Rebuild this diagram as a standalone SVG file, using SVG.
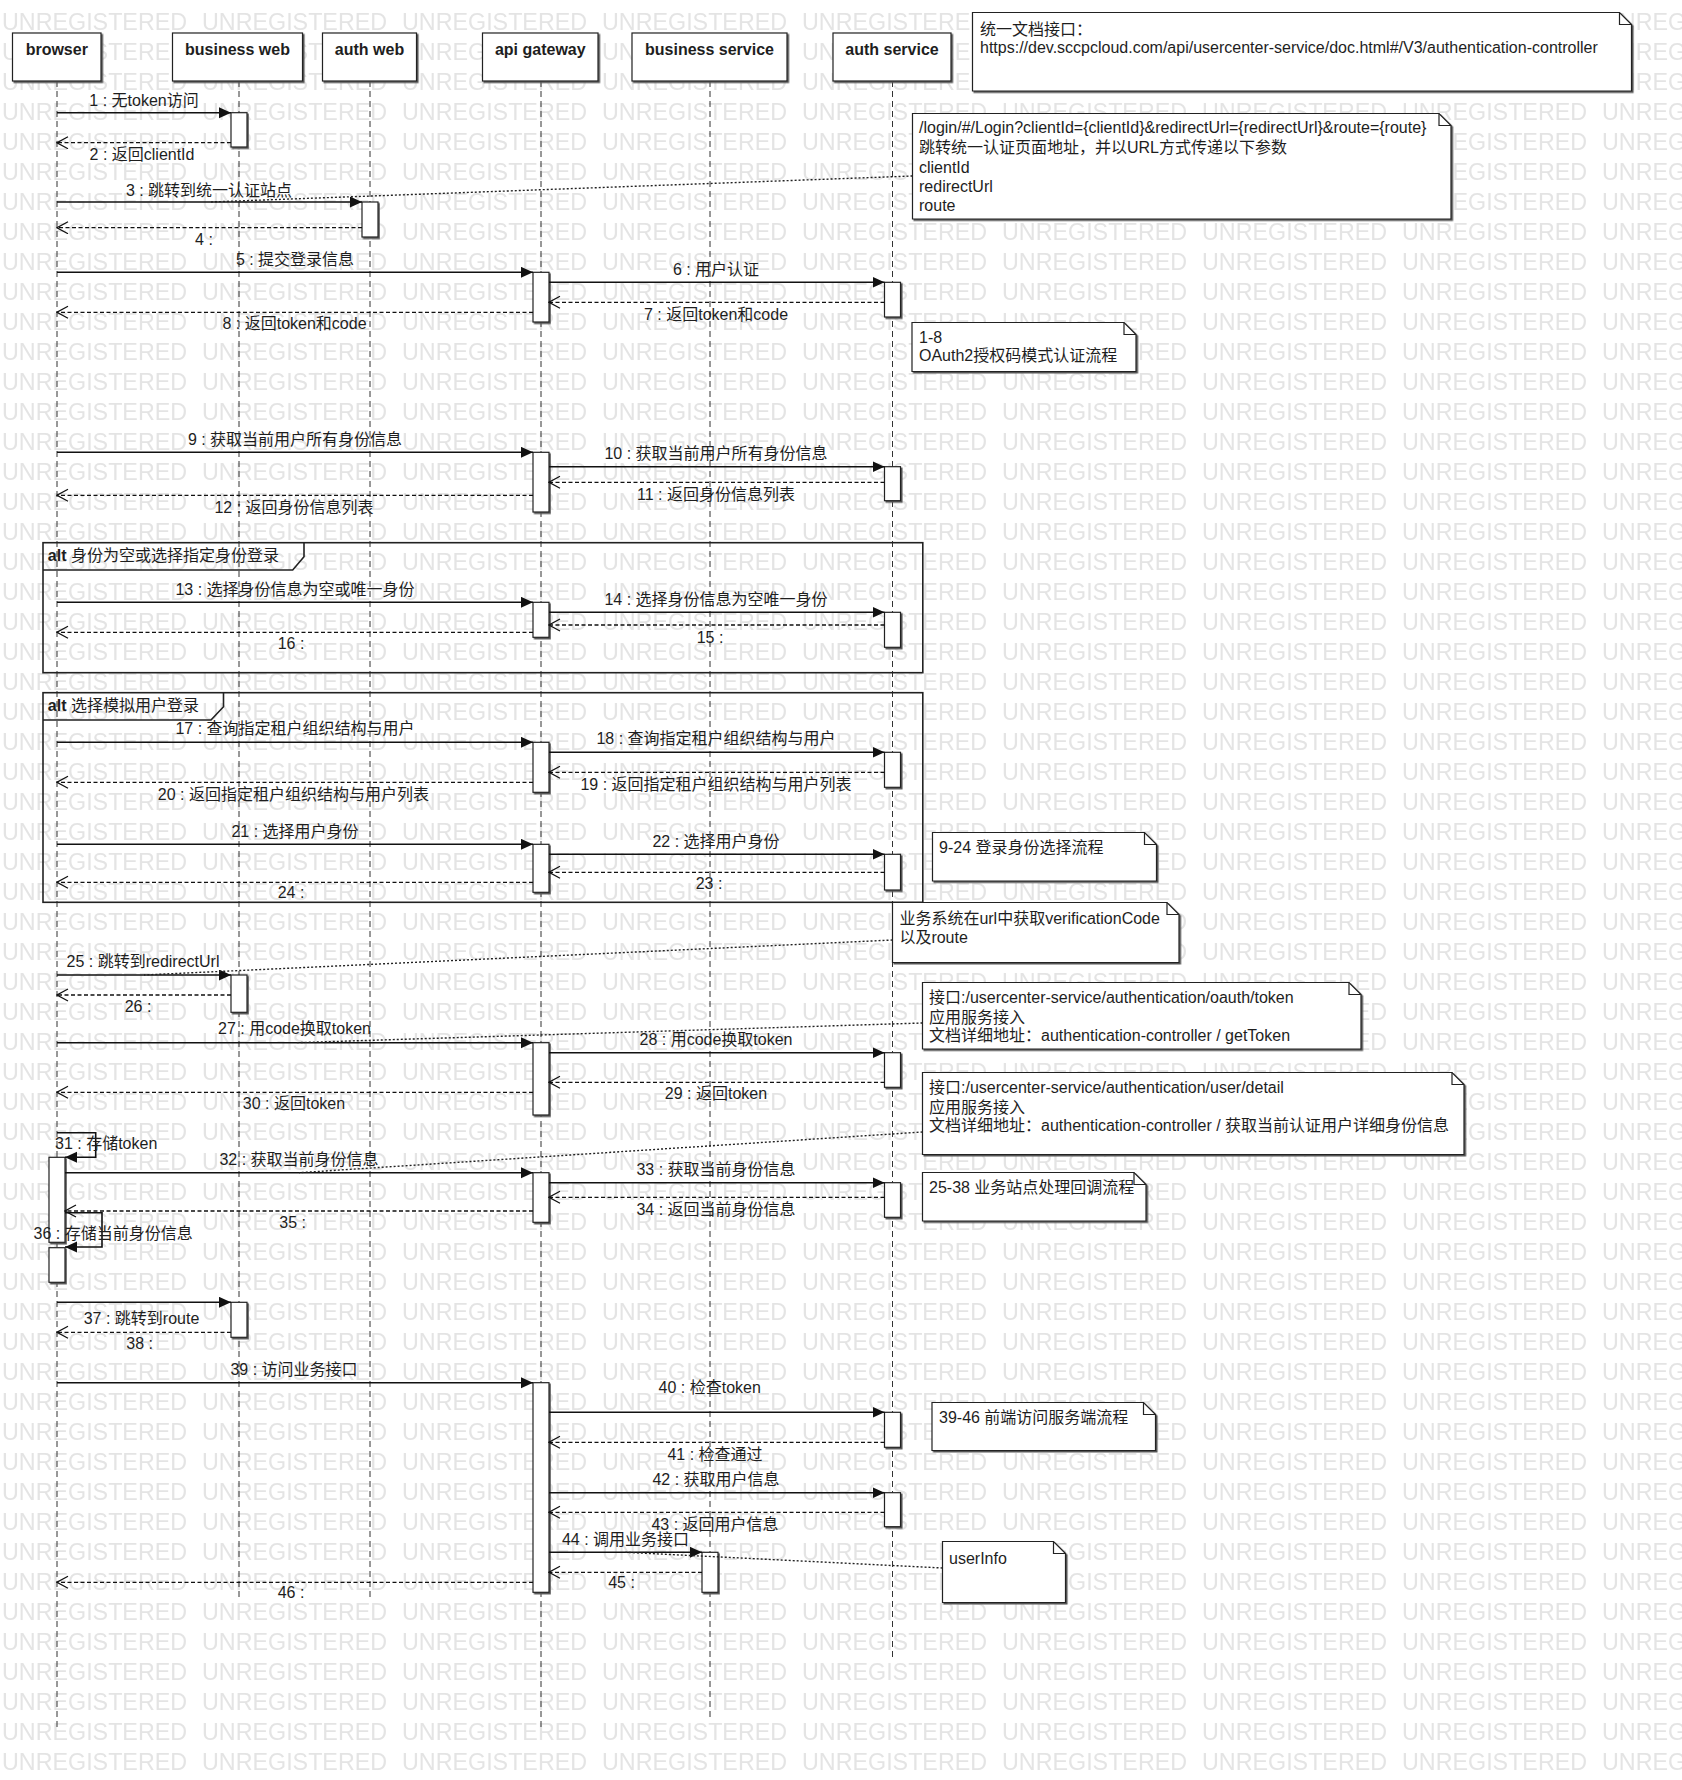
<svg xmlns="http://www.w3.org/2000/svg" width="1682" height="1780" viewBox="0 0 1682 1780">
<style>
text{font-family:"Liberation Sans","Noto Sans CJK SC",sans-serif;font-size:16px;fill:#1e1e1e}
.hd{font-weight:bold;text-anchor:middle}
.m{text-anchor:middle}
.b{font-weight:bold}
.box{fill:#fff;stroke:#222;stroke-width:1.2;filter:url(#sh)}
.act{fill:#fff;stroke:#222;stroke-width:1.2;filter:url(#sh)}
.life{stroke:#333;stroke-width:1;stroke-dasharray:6,4;fill:none}
.msg{stroke:#111;stroke-width:1.6;fill:none;marker-end:url(#fa)}
.ret{stroke:#111;stroke-width:1.3;stroke-dasharray:4,2.5;fill:none;marker-end:url(#oa)}
.nc{stroke:#222;stroke-width:1.4;stroke-dasharray:2,2;fill:none}
.note{fill:#fff;stroke:#222;stroke-width:1.2;filter:url(#sh)}
.fold{fill:none;stroke:#222;stroke-width:1.2}
.frame{fill:none;stroke:#222;stroke-width:1.6}
.wm{font-size:23.3px;fill:#e4e4e4}
</style>
<defs>
<filter id="sh" x="-5%" y="-5%" width="115%" height="130%">
<feDropShadow dx="1.5" dy="1.5" stdDeviation="0" flood-color="#555" flood-opacity="1"/>
</filter>
<marker id="fa" markerUnits="userSpaceOnUse" markerWidth="13" markerHeight="12" refX="12" refY="5.5" orient="auto">
<path d="M0,0 L12,5.5 L0,11 Z" fill="#111" stroke="none"/>
</marker>
<marker id="oa" markerUnits="userSpaceOnUse" markerWidth="13" markerHeight="14" refX="11.5" refY="6.5" orient="auto">
<path d="M0.5,0.5 L11.5,6.5 L0.5,12.5" fill="none" stroke="#111" stroke-width="1.3" stroke-dasharray="none"/>
</marker>
<pattern id="wmp" patternUnits="userSpaceOnUse" x="0" y="5" width="200" height="30">
<text class="wm" x="2" y="25">UNREGISTERED</text>
</pattern>
</defs>
<rect x="0" y="0" width="1682" height="1780" fill="#fff"/>
<rect id="watermark" x="0" y="0" width="1682" height="1780" fill="url(#wmp)"/>

<g id="lifelines">
<path class="life" d="M57,81 V1730"/>
<path class="life" d="M239,81 V1601"/>
<path class="life" d="M370,81 V1601"/>
<path class="life" d="M541,81 V1730"/>
<path class="life" d="M710,81 V1720"/>
<path class="life" d="M892.5,81 V1659"/>
</g>

<g id="frame-alt1">
<rect class="frame" x="43" y="542.7" width="879.8" height="130"/>
<path class="frame" d="M43,570 H292.7 L304,556.7 V542.7"/>
<text x="47.8" y="561"><tspan class="b">alt</tspan> 身份为空或选择指定身份登录</text>
</g>
<g id="frame-alt2">
<rect class="frame" x="43" y="692.7" width="879.8" height="209.6"/>
<path class="frame" d="M43,720 H211 L223.5,706.7 V692.7"/>
<text x="47.8" y="710.7"><tspan class="b">alt</tspan> 选择模拟用户登录</text>
</g>

<g id="p-browser"><rect class="box" x="12.5" y="33" width="88.5" height="48"/><text class="hd" x="56.75" y="54.5">browser</text></g>
<g id="p-business-web"><rect class="box" x="172.5" y="33" width="130" height="48"/><text class="hd" x="237.5" y="54.5">business web</text></g>
<g id="p-auth-web"><rect class="box" x="322.5" y="33" width="94" height="48"/><text class="hd" x="369.5" y="54.5">auth web</text></g>
<g id="p-api-gateway"><rect class="box" x="482.5" y="33" width="115.5" height="48"/><text class="hd" x="540.3" y="54.5">api gateway</text></g>
<g id="p-business-service"><rect class="box" x="632" y="33" width="155" height="48"/><text class="hd" x="709.5" y="54.5">business service</text></g>
<g id="p-auth-service"><rect class="box" x="833" y="33" width="118" height="48"/><text class="hd" x="892" y="54.5">auth service</text></g>

<g id="activations">
<rect class="act" x="231" y="112.7" width="16" height="34.3"/>
<rect class="act" x="231" y="975" width="16" height="37.3"/>
<rect class="act" x="231" y="1302.3" width="16" height="35"/>
<rect class="act" x="362" y="202" width="16" height="35"/>
<rect class="act" x="533" y="272.3" width="16" height="49.7"/>
<rect class="act" x="533" y="452.3" width="16" height="59.7"/>
<rect class="act" x="533" y="602.3" width="16" height="35"/>
<rect class="act" x="533" y="742.3" width="16" height="50"/>
<rect class="act" x="533" y="844.3" width="16" height="48"/>
<rect class="act" x="533" y="1042.7" width="16" height="72.3"/>
<rect class="act" x="533" y="1172.7" width="16" height="49.6"/>
<rect class="act" x="533" y="1382.7" width="16" height="209.6"/>
<rect class="act" x="884.5" y="282.3" width="16" height="34.7"/>
<rect class="act" x="884.5" y="466.7" width="16" height="34"/>
<rect class="act" x="884.5" y="612.3" width="16" height="35"/>
<rect class="act" x="884.5" y="752.3" width="16" height="35"/>
<rect class="act" x="884.5" y="854.3" width="16" height="35.7"/>
<rect class="act" x="884.5" y="1052.7" width="16" height="34.6"/>
<rect class="act" x="884.5" y="1182.7" width="16" height="34.6"/>
<rect class="act" x="884.5" y="1412.3" width="16" height="35"/>
<rect class="act" x="884.5" y="1492.7" width="16" height="34"/>
<rect class="act" x="702" y="1552.3" width="16" height="40"/>
<rect class="act" x="49" y="1157.3" width="16" height="85"/>
<rect class="act" x="49" y="1247.7" width="16" height="34.6"/>
</g>

<g id="connectors">
<path class="msg" d="M57,112.7 H231"/><text class="m" x="144" y="106">1 : 无token访问</text>
<path class="ret" d="M231,142.7 H57"/><text class="m" x="142" y="160">2 : 返回clientId</text>
<path class="msg" d="M57,202 H362"/><text class="m" x="209" y="196">3 : 跳转到统一认证站点</text>
<path class="ret" d="M362,227.7 H57"/><text class="m" x="204" y="245">4 :</text>
<path class="msg" d="M57,272.3 H533"/><text class="m" x="295" y="265">5 : 提交登录信息</text>
<path class="msg" d="M549,282.3 H884.5"/><text class="m" x="716" y="275">6 : 用户认证</text>
<path class="ret" d="M884.5,302.3 H549"/><text class="m" x="716" y="320">7 : 返回token和code</text>
<path class="ret" d="M533,312.3 H57"/><text class="m" x="294.5" y="329">8 : 返回token和code</text>
<path class="msg" d="M57,452.3 H533"/><text class="m" x="295" y="445">9 : 获取当前用户所有身份信息</text>
<path class="msg" d="M549,466.7 H884.5"/><text class="m" x="716" y="459">10 : 获取当前用户所有身份信息</text>
<path class="ret" d="M884.5,482.3 H549"/><text class="m" x="716" y="500">11 : 返回身份信息列表</text>
<path class="ret" d="M533,495.3 H57"/><text class="m" x="294" y="512.7">12 : 返回身份信息列表</text>
<path class="msg" d="M57,602.3 H533"/><text class="m" x="295" y="595">13 : 选择身份信息为空或唯一身份</text>
<path class="msg" d="M549,612.3 H884.5"/><text class="m" x="716" y="605">14 : 选择身份信息为空唯一身份</text>
<path class="ret" d="M884.5,625 H549"/><text class="m" x="710" y="642.7">15 :</text>
<path class="ret" d="M533,632.3 H57"/><text class="m" x="291" y="649.3">16 :</text>
<path class="msg" d="M57,742.3 H533"/><text class="m" x="295" y="734">17 : 查询指定租户组织结构与用户</text>
<path class="msg" d="M549,752.3 H884.5"/><text class="m" x="716" y="744">18 : 查询指定租户组织结构与用户</text>
<path class="ret" d="M884.5,772.3 H549"/><text class="m" x="716" y="790">19 : 返回指定租户组织结构与用户列表</text>
<path class="ret" d="M533,782.3 H57"/><text class="m" x="293.4" y="800">20 : 返回指定租户组织结构与用户列表</text>
<path class="msg" d="M57,844.3 H533"/><text class="m" x="295" y="837.3">21 : 选择用户身份</text>
<path class="msg" d="M549,854.3 H884.5"/><text class="m" x="716" y="847.3">22 : 选择用户身份</text>
<path class="ret" d="M884.5,872.3 H549"/><text class="m" x="709" y="889.3">23 :</text>
<path class="ret" d="M533,882.3 H57"/><text class="m" x="291" y="898.3">24 :</text>
<path class="msg" d="M57,975 H231"/><text class="m" x="143" y="967.3">25 : 跳转到redirectUrl</text>
<path class="ret" d="M231,995 H57"/><text class="m" x="138" y="1011.7">26 :</text>
<path class="msg" d="M57,1042.7 H533"/><text class="m" x="294.5" y="1034.3">27 : 用code换取token</text>
<path class="msg" d="M549,1052.7 H884.5"/><text class="m" x="716" y="1045">28 : 用code换取token</text>
<path class="ret" d="M884.5,1082.3 H549"/><text class="m" x="716" y="1099.3">29 : 返回token</text>
<path class="ret" d="M533,1092.3 H57"/><text class="m" x="294" y="1109.3">30 : 返回token</text>
<path class="msg" d="M57,1132.7 H95.7 V1157.3 H65"/><text x="55" y="1149.3">31 : 存储token</text>
<path class="msg" d="M65,1172.7 H533"/><text class="m" x="299" y="1165">32 : 获取当前身份信息</text>
<path class="msg" d="M549,1182.7 H884.5"/><text class="m" x="716" y="1175">33 : 获取当前身份信息</text>
<path class="ret" d="M884.5,1197.3 H549"/><text class="m" x="716" y="1215">34 : 返回当前身份信息</text>
<path class="ret" d="M533,1211 H65"/><text class="m" x="292.7" y="1228.3">35 :</text>
<path class="msg" d="M65,1212.7 H102 V1247 H65"/><text x="33.5" y="1239.3">36 : 存储当前身份信息</text>
<path class="msg" d="M57,1302.3 H231"/><text class="m" x="141.5" y="1324">37 : 跳转到route</text>
<path class="ret" d="M231,1332.3 H57"/><text class="m" x="139.6" y="1349.3">38 :</text>
<path class="msg" d="M57,1382.7 H533"/><text class="m" x="294" y="1375">39 : 访问业务接口</text>
<path class="msg" d="M549,1412.3 H884.5"/><text class="m" x="709.7" y="1393.3">40 : 检查token</text>
<path class="ret" d="M884.5,1442.3 H549"/><text class="m" x="715" y="1460">41 : 检查通过</text>
<path class="msg" d="M549,1492.7 H884.5"/><text class="m" x="716" y="1485">42 : 获取用户信息</text>
<path class="ret" d="M884.5,1512.3 H549"/><text class="m" x="715" y="1530">43 : 返回用户信息</text>
<path class="msg" d="M549,1552.3 H702"/><text class="m" x="625.5" y="1545">44 : 调用业务接口</text>
<path class="ret" d="M702,1572.3 H549"/><text class="m" x="621.5" y="1588.3">45 :</text>
<path class="ret" d="M533,1582.3 H57"/><text class="m" x="291" y="1598.3">46 :</text>
<path class="nc" d="M912.5,176 L209.5,202"/>
<path class="nc" d="M892.5,940 L144,975"/>
<path class="nc" d="M922.5,1023 L295,1042.7"/>
<path class="nc" d="M922.5,1132 L299,1172.7"/>
<path class="nc" d="M942.5,1568 L625.5,1552.3"/>
</g>

<g id="note-doc">
<path class="note" d="M972.5,12.5 H1619.5 L1631.5,24.5 V91 H972.5 Z"/><path class="fold" d="M1619.5,12.5 V24.5 H1631.5"/>
<text x="980" y="35">统一文档接口：</text>
<text x="980" y="53.3">https://dev.sccpcloud.com/api/usercenter-service/doc.html#/V3/authentication-controller</text>
</g>
<g id="note-login">
<path class="note" d="M912.5,113.5 H1439 L1451,125.5 V219 H912.5 Z"/><path class="fold" d="M1439,113.5 V125.5 H1451"/>
<text x="919" y="133">/login/#/Login?clientId={clientId}&amp;redirectUrl={redirectUrl}&amp;route={route}</text>
<text x="919" y="152.5">跳转统一认证页面地址，并以URL方式传递以下参数</text>
<text x="919" y="173">clientId</text>
<text x="919" y="192">redirectUrl</text>
<text x="919" y="210.5">route</text>
</g>
<g id="note-1-8">
<path class="note" d="M912,322.5 H1124 L1136,334.5 V371.5 H912 Z"/><path class="fold" d="M1124,322.5 V334.5 H1136"/>
<text x="919" y="343">1-8</text>
<text x="919" y="360.7">OAuth2授权码模式认证流程</text>
</g>
<g id="note-9-24">
<path class="note" d="M932.5,832.5 H1144.5 L1156.5,844.5 V881 H932.5 Z"/><path class="fold" d="M1144.5,832.5 V844.5 H1156.5"/>
<text x="939" y="853">9-24 登录身份选择流程</text>
</g>
<g id="note-verification">
<path class="note" d="M892.5,902.5 H1167 L1179,914.5 V962.5 H892.5 Z"/><path class="fold" d="M1167,902.5 V914.5 H1179"/>
<text x="899.4" y="924">业务系统在url中获取verificationCode</text>
<text x="899.4" y="942.7">以及route</text>
</g>
<g id="note-token">
<path class="note" d="M922.5,982.5 H1349 L1361,994.5 V1049 H922.5 Z"/><path class="fold" d="M1349,982.5 V994.5 H1361"/>
<text x="929" y="1003.3">接口:/usercenter-service/authentication/oauth/token</text>
<text x="929" y="1022.7">应用服务接入</text>
<text x="929" y="1040.7">文档详细地址：authentication-controller / getToken</text>
</g>
<g id="note-detail">
<path class="note" d="M922.5,1072.5 H1452 L1464,1084.5 V1154.5 H922.5 Z"/><path class="fold" d="M1452,1072.5 V1084.5 H1464"/>
<text x="929" y="1093.3">接口:/usercenter-service/authentication/user/detail</text>
<text x="929" y="1112.7">应用服务接入</text>
<text x="929" y="1130.7">文档详细地址：authentication-controller / 获取当前认证用户详细身份信息</text>
</g>
<g id="note-25-38">
<path class="note" d="M922.5,1172.5 H1134 L1146,1184.5 V1221 H922.5 Z"/><path class="fold" d="M1134,1172.5 V1184.5 H1146"/>
<text x="929" y="1193.3">25-38 业务站点处理回调流程</text>
</g>
<g id="note-39-46">
<path class="note" d="M932,1402.5 H1143.5 L1155.5,1414.5 V1450.5 H932 Z"/><path class="fold" d="M1143.5,1402.5 V1414.5 H1155.5"/>
<text x="939" y="1423">39-46 前端访问服务端流程</text>
</g>
<g id="note-userinfo">
<path class="note" d="M942.5,1541.5 H1053.5 L1065.5,1553.5 V1602.5 H942.5 Z"/><path class="fold" d="M1053.5,1541.5 V1553.5 H1065.5"/>
<text x="949" y="1564">userInfo</text>
</g>
</svg>
